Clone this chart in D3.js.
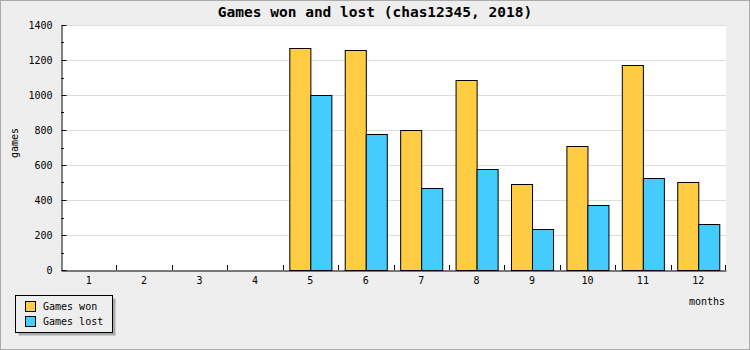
<!DOCTYPE html>
<html>
  <head>
    <meta charset="utf-8">
    <title>Games won and lost</title>
    <script src="https://d3js.org/d3.v7.min.js"></script>
    <style>
      body { margin: 0; }
      text { font-family: "DejaVu Sans Mono", monospace; }
    </style>
  </head>
  <body>
    <script>
        var months = ["1","2","3","4","5","6","7","8","9","10","11","12"]
        var seriesNames = ["Games won", "Games lost"]
        var gamesWon  = [0, 0, 0, 0, 1267, 1255, 798, 1084, 490, 708, 1170, 501]
        var gamesLost = [0, 0, 0, 0, 1000, 775, 467, 575, 232, 370, 524, 261]
        var yTicks = [0, 200, 400, 600, 800, 1000, 1200, 1400]
        var colors = ["#ffcc44", "#44ccff"]

        var W = 750, H = 350
        var margin = {top: 25, right: 24, bottom: 80, left: 61}
        var width = W - margin.left - margin.right
        var height = H - margin.top - margin.bottom

        var root = d3.select("body").append("svg")
            .attr("width", W)
            .attr("height", H)

        root.append("rect")
            .attr("x", 0.5).attr("y", 0.5)
            .attr("width", W - 1).attr("height", H - 1)
            .attr("fill", "#eeeeee")
            .attr("stroke", "#aaaaaa")

        var svg = root.append("g")
            .attr("transform", "translate(" + margin.left + "," + margin.top + ")")

        svg.append("rect")
            .attr("width", width)
            .attr("height", height)
            .attr("fill", "#ffffff")

        var x0 = d3.scaleBand().domain(months).range([0, width])
        var groupW = x0.bandwidth() * 0.76
        var x1 = d3.scaleBand().domain(seriesNames).range([0, groupW])
        var y = d3.scaleLinear().domain([0, 1400]).range([height, 0])

        // grid
        svg.append("g")
            .selectAll("line")
            .data(yTicks.slice(1))
            .enter()
            .append("line")
              .attr("x1", 0).attr("x2", width)
              .attr("y1", function(d) { return Math.round(y(d)) + 0.5 })
              .attr("y2", function(d) { return Math.round(y(d)) + 0.5 })
              .attr("stroke", "#dddddd")

        // bars
        var data = months.map(function(m, i) {
            return {month: m, values: [gamesWon[i], gamesLost[i]]}
        })

        var groups = svg.append("g")
            .selectAll("g")
            .data(data)
            .enter()
            .append("g")
              .attr("transform", function(d) {
                  return "translate(" + (x0(d.month) + (x0.bandwidth() - groupW) / 2) + ",0)"
              })

        groups.selectAll("rect")
            .data(function(d) {
                return d.values.map(function(v, j) { return {name: seriesNames[j], value: v, j: j} })
            })
            .enter()
            .append("rect")
              .filter(function(d) { return d.value > 0 })
              .attr("x", function(d) { return Math.round(x1(d.name)) + 0.5 })
              .attr("y", function(d) { return Math.round(y(d.value)) + 0.5 })
              .attr("width", x1.bandwidth())
              .attr("height", function(d) { return height - Math.round(y(d.value)) })
              .attr("fill", function(d) { return colors[d.j] })
              .attr("stroke", "#000")

        // y axis
        var yAxis = svg.append("g")
            .attr("transform", "translate(0.5,0)")
            .call(d3.axisLeft(y).tickValues(yTicks).tickFormat(d3.format("d"))
                .tickSizeInner(-5).tickSizeOuter(0).tickPadding(9))
        yAxis.selectAll("text").style("font-size", "10px").attr("fill", "#000")
        yAxis.select(".domain").attr("stroke", "#000")

        var minor = d3.range(100, 1400, 200)
        svg.append("g")
            .selectAll("line")
            .data(minor)
            .enter()
            .append("line")
              .attr("x1", 0).attr("x2", 3)
              .attr("y1", function(d) { return Math.round(y(d)) + 0.5 })
              .attr("y2", function(d) { return Math.round(y(d)) + 0.5 })
              .attr("stroke", "#000")

        // x axis
        var xAxis = svg.append("g")
            .attr("transform", "translate(0," + (height + 0.5) + ")")
            .call(d3.axisBottom(x0).tickSize(0).tickPadding(6))
        xAxis.selectAll("text").style("font-size", "10px").attr("fill", "#000")
        xAxis.select(".domain").attr("stroke", "#000")

        svg.append("g")
            .selectAll("line")
            .data(months.slice(1).concat(["end"]))
            .enter()
            .append("line")
              .attr("x1", function(d) { return d === "end" ? width - 0.5 : Math.round(x0(d)) + 0.5 })
              .attr("x2", function(d) { return d === "end" ? width - 0.5 : Math.round(x0(d)) + 0.5 })
              .attr("y1", height).attr("y2", height - 5)
              .attr("stroke", "#000")

        // titles
        root.append("text")
            .attr("x", W / 2)
            .attr("y", 17)
            .attr("text-anchor", "middle")
            .style("font-size", "14.5px")
            .style("font-weight", "bold")
            .text("Games won and lost (chas12345, 2018)")

        root.append("text")
            .attr("x", margin.left + width - 1)
            .attr("y", 305)
            .attr("text-anchor", "end")
            .style("font-size", "10px")
            .text("months")

        root.append("text")
            .attr("transform", "translate(18,143) rotate(-90)")
            .attr("text-anchor", "middle")
            .style("font-size", "10px")
            .text("games")

        // legend
        var legend = root.append("g").attr("transform", "translate(15,295)")
        legend.append("rect")
            .attr("x", 3.5).attr("y", 3.5)
            .attr("width", 97).attr("height", 37)
            .attr("fill", "#aaaaaa")
        legend.append("rect")
            .attr("x", 0.5).attr("y", 0.5)
            .attr("width", 97).attr("height", 37)
            .attr("fill", "#eeeeee")
            .attr("stroke", "#000")

        seriesNames.forEach(function(name, i) {
            legend.append("rect")
                .attr("x", 10.5).attr("y", 6.5 + i * 15)
                .attr("width", 10).attr("height", 10)
                .attr("fill", colors[i])
                .attr("stroke", "#000")
            legend.append("text")
                .attr("x", 28)
                .attr("y", 15 + i * 15)
                .style("font-size", "10px")
                .text(name)
        })
    </script>
  </body>
</html>
